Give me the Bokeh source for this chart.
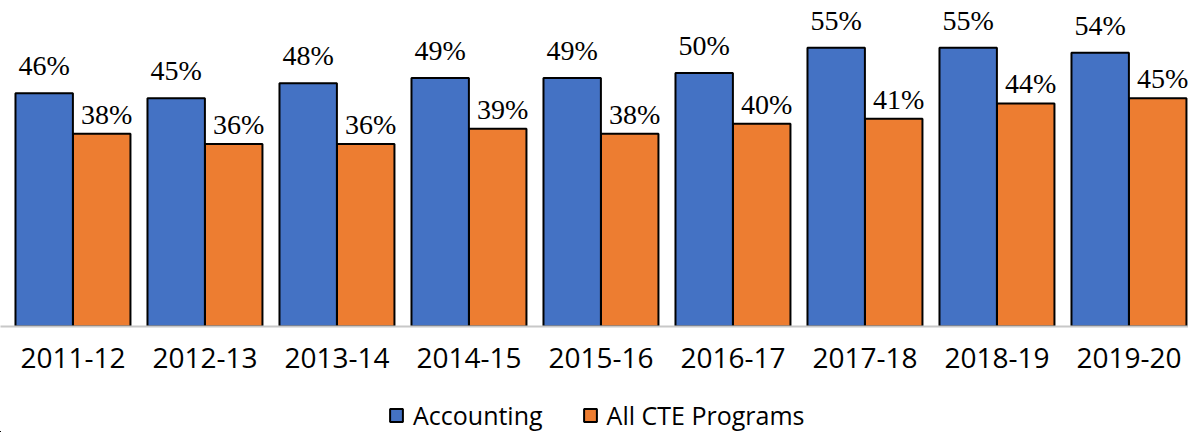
from bokeh.plotting import figure
from bokeh.models import ColumnDataSource, Range1d, FixedTicker, LabelSet, Legend, LegendItem
from bokeh.layouts import column
from bokeh.embed import file_html
from bokeh.resources import INLINE
import numpy as np

years = ["2011-12", "2012-13", "2013-14", "2014-15", "2015-16", "2016-17", "2017-18", "2018-19", "2019-20"]
accounting = [46, 45, 48, 49, 49, 50, 55, 55, 54]
all_cte = [38, 36, 36, 39, 38, 40, 41, 44, 45]
series_names = ["Accounting", "All CTE Programs"]

BLUE = "#4472C4"
ORANGE = "#ED7D31"
FONT = "Open Sans"

idx = np.arange(len(years))
src_a = ColumnDataSource(dict(x=idx - 0.218, y=[v / 100 for v in accounting], t=[f"{v}%" for v in accounting]))
src_c = ColumnDataSource(dict(x=idx + 0.218, y=[v / 100 for v in all_cte], t=[f"{v}%" for v in all_cte]))

p = figure(width=1188, height=386, output_backend="svg", toolbar_location=None,
           x_range=Range1d(-0.549, 8.451), y_range=Range1d(0, 0.643),
           min_border_left=0, min_border_right=0, min_border_top=0, min_border_bottom=60)
p.outline_line_color = None
p.xgrid.visible = False
p.ygrid.visible = False
p.yaxis.visible = False

bar_kw = dict(width=0.435, line_color="black", line_width=2)
p.vbar(x="x", top="y", source=src_a, fill_color=BLUE, **bar_kw)
p.vbar(x="x", top="y", source=src_c, fill_color=ORANGE, **bar_kw)

la = LabelSet(x="x", y="y", text="t", source=src_a, text_align="center", text_baseline="alphabetic",
              y_offset=18, text_font=FONT, text_font_size="28px", text_color="black")
lc = LabelSet(x="x", y="y", text="t", source=src_c, text_align="center", text_baseline="alphabetic",
              x_offset=5, y_offset=10, text_font=FONT, text_font_size="28px", text_color="black")
p.add_layout(la)
p.add_layout(lc)

ax = p.xaxis[0]
ax.ticker = FixedTicker(ticks=list(range(len(years))))
ax.major_label_overrides = {i: y for i, y in enumerate(years)}
ax.major_tick_line_color = None
ax.minor_tick_line_color = None
ax.axis_line_color = "#C8C8C8"
ax.axis_line_width = 2
ax.major_label_standoff = 15
ax.major_label_text_font = FONT
ax.major_label_text_font_size = "28px"
ax.major_label_text_color = "black"

# legend strip: same series renderers, kept far outside this strip's visible ranges
q = figure(width=1188, height=46, output_backend="svg", toolbar_location=None,
           x_range=Range1d(100, 101), y_range=Range1d(100, 101),
           x_axis_location=None, y_axis_location=None,
           min_border_left=0, min_border_right=0, min_border_top=0, min_border_bottom=0)
q.outline_line_color = None
q.xgrid.visible = False
q.ygrid.visible = False
ga = q.vbar(x="x", top="y", source=src_a, fill_color=BLUE, **bar_kw)
gc = q.vbar(x="x", top="y", source=src_c, fill_color=ORANGE, **bar_kw)
legend = Legend(items=[LegendItem(label=series_names[0], renderers=[ga]),
                       LegendItem(label=series_names[1], renderers=[gc])],
                orientation="horizontal", location=(388, 0),
                glyph_width=16, glyph_height=16, label_standoff=9, spacing=39,
                label_text_font=FONT, label_text_font_size="25px", label_text_color="black",
                border_line_color=None, background_fill_alpha=0, padding=0, margin=0)
q.add_layout(legend, "center")

layout = column(p, q, spacing=0)
open("out.html", "w").write(file_html(layout, INLINE))
